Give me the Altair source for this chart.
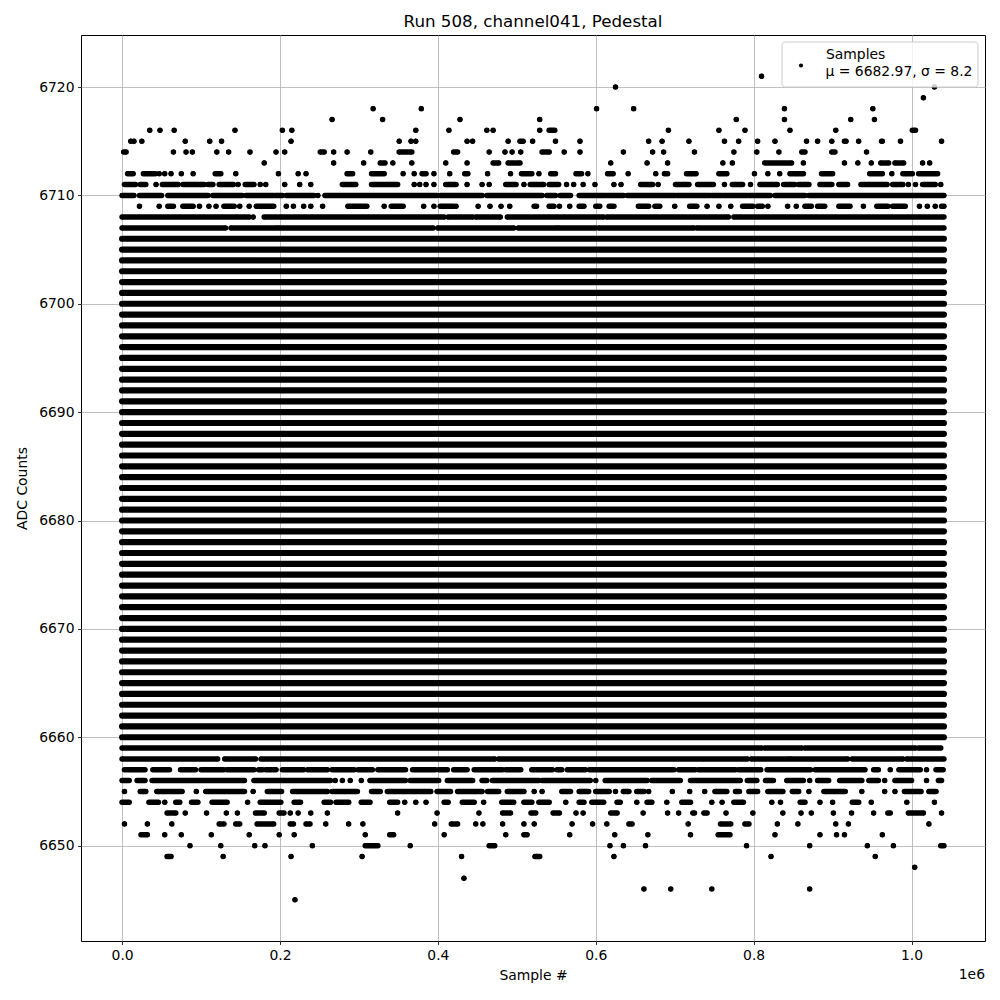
import altair as alt
import pandas as pd

TITLE = "Run 508, channel041, Pedestal"
X_TITLE = "Sample #"
Y_TITLE = "ADC Counts"
LEGEND_NAME = "Samples"
LEGEND_STATS = "μ = 6682.97, σ = 8.2"
X_OFFSET_TEXT = "1e6"
X_TICKS = [0, 200000, 400000, 600000, 800000, 1000000]
Y_TICKS = [6650, 6660, 6670, 6680, 6690, 6700, 6710, 6720]

# Sample positions below are in thousands of samples.
# A single number is one dot; a pair [a, b] is a run of adjacent dots.
DENSE_LEVELS = [6660, 6661, 6662, 6663, 6664, 6665, 6666, 6667, 6668, 6669,
                6670, 6671, 6672, 6673, 6674, 6675, 6676, 6677, 6678, 6679,
                6680, 6681, 6682, 6683, 6684, 6685, 6686, 6687, 6688, 6689,
                6690, 6691, 6692, 6693, 6694, 6695, 6696, 6697, 6698, 6699,
                6700, 6701, 6702, 6703, 6704, 6705, 6706]
DENSE_START = 0
DENSE_END = 1041

ROW_6721 = [810]
ROW_6720 = [625, 1029]
ROW_6719 = [1015]
ROW_6718 = [318, 379, 601, 648, 839, 951]
ROW_6717 = [266, 330, 428, 529, 778, 839, 923, 953]
ROW_6716 = [35, 48, 66, 143, 203, 215, 372, 414, 462, 470, 529, [541, 548], 692,
            756, 789, 846, 904, [1001, 1005]]
ROW_6715 = [11, 15, 25, 80, 111, 126, 214, 351, 366, 372, 437, 444, 489, [504, 508],
            520, 549, 580, 667, 684, 718, 763, 781, 805, 827, 867, 881, 899,
            [915, 917], 933, [962, 963], 986, 1038]
ROW_6714 = [[2, 5], 65, 81, 89, 120, 135, 162, 195, 206, [251, 256], 268, 285, 315,
            [351, 367], [420, 425], 465, 485, 494, 505, [532, 541], 560, 580, 635,
            672, 686, 725, 775, 804, 832, [861, 865], [899, 903], 943]
ROW_6713 = [180, 268, 306, [327, 333], 343, 367, 410, 437, [470, 477], [489, 504],
            619, 665, 691, 761, 773, [814, 848], 863, 915, 932, 949, [961, 971],
            [979, 990], 1014, 1023]
ROW_6712 = [[7, 14], [27, 42], 47, 54, 62, 75, 90, [118, 125], 144, 198, 223, 233,
            [285, 292], [316, 332], 356, 370, [380, 385], 395, 415, [434, 438], 463,
            492, [506, 519], 528, [543, 549], [575, 582], 590, [615, 622], 641, 676,
            [687, 691], [715, 727], [756, 766], 801, 818, 833, [846, 863], [886, 900],
            [947, 963], 975, [989, 1001], [1009, 1033]]
ROW_6711 = [[3, 17], [23, 30], 43, [51, 71], [77, 104], [109, 115], [123, 141], 147,
            [156, 167], 175, 182, 206, 225, 239, [279, 296], [316, 349], 370, 377,
            385, 395, [410, 423], 437, 456, 465, [486, 499], 509, [517, 534],
            [541, 553], 563, 572, 584, 599, 623, 632, [657, 672], 679, [701, 718],
            [729, 749], 763, [773, 786], 796, [808, 830], [838, 852], [857, 870],
            [884, 899], [908, 919], [936, 969], [976, 989], 996, 1005, [1014, 1030],
            1037]
ROW_6710 = [[0, 15], [22, 50], [58, 109], [115, 152], [157, 192], [194, 203],
            [208, 243], 248, [257, 399], [403, 456], [462, 532], [538, 549],
            [555, 568], [579, 612], [614, 635], [640, 701], [703, 745], [747, 760],
            [762, 792], [794, 821], [827, 865], [870, 1041]]
ROW_6709 = [22, 47, [58, 65], [77, 90], 98, 110, 119, [129, 142], 149, 161,
            [170, 192], 208, 217, 230, 239, 254, [286, 310], 332, [341, 356], 382,
            395, [403, 420], 423, 451, 466, 480, 491, [522, 525], [541, 547], 554,
            567, [579, 585], [600, 605], [617, 623], [654, 667], [675, 681], 700,
            [719, 728], 741, 756, 771, [786, 799], [805, 811], 818, 843, 854,
            [865, 873], [881, 890], [908, 922], 939, [956, 970], [976, 992], 1010,
            1020, 1030, [1038, 1041]]
ROW_6708 = [[0, 161], 166, [180, 408], [413, 444], [448, 479], [488, 610],
            [614, 768], [775, 1041]]
ROW_6707 = [[0, 131], [138, 195], [198, 394], [400, 496], [502, 550], [553, 600],
            [604, 724], [728, 1041]]
ROW_6659 = [[0, 810], [814, 861], [865, 1005], [1009, 1037]]
ROW_6658 = [[0, 121], [130, 169], [176, 472], [477, 792], [797, 844], [847, 919],
            [925, 989], [994, 1041]]
ROW_6657 = [[3, 29], [39, 60], [74, 93], [100, 129], [133, 167], [173, 178],
            [182, 195], [203, 230], [235, 260], [266, 294], [299, 317], [324, 359],
            [368, 397], [401, 412], [420, 437], [446, 482], [486, 505], [519, 545],
            [551, 557], [564, 587], [592, 699], [705, 726], [730, 777], [781, 809],
            [817, 872], [878, 941], [952, 958], 973, [984, 1011], 1019, [1031, 1040]]
ROW_6656 = [[0, 9], [19, 29], [38, 155], [167, 264], 270, 279, 289, 303, [314, 359],
            [365, 401], [412, 444], [456, 462], [469, 528], [532, 593], 600,
            [612, 665], [671, 707], [720, 783], [792, 804], [815, 825], [842, 863],
            871, [881, 895], [909, 937], [946, 958], 966, [979, 1000], 1019,
            [1034, 1038]]
ROW_6655 = [3, [23, 30], [44, 76], 94, [106, 155], 166, [184, 202], [216, 260],
            [266, 298], [316, 327], [336, 391], [399, 416], [425, 456], [463, 477],
            [488, 509], 522, 532, [557, 568], [579, 591], [600, 617], 625, [635, 642],
            [652, 661], 667, 697, 719, 738, [751, 766], [777, 782], [794, 805],
            [818, 837], [849, 857], 870, [889, 916], 937, 966, 979, [991, 1012],
            [1022, 1031]]
ROW_6654 = [[0, 9], [34, 46], 54, [68, 73], [88, 96], [114, 133], 159, [175, 201],
            [218, 226], [256, 264], [271, 287], [303, 314], [339, 349], 358, 372,
            385, [408, 413], [431, 446], 458, [481, 496], [509, 519], [528, 541], 562,
            [579, 585], [595, 610], [627, 631], 652, [665, 671], 690, [709, 720], 747,
            760, [775, 787], 823, 834, [859, 865], 884, 900, [925, 933], 949, 994,
            1029]
ROW_6653 = [[57, 68], 80, 107, 132, 146, [169, 180], [199, 205], 213, 223, 239, 260,
            349, 399, 452, [482, 492], [518, 524], [546, 554], 575, 584, [619, 627],
            660, 691, 705, [723, 725], [737, 741], 765, 799, 837, 860, 873, 901, 924,
            952, [970, 973], [996, 1015], 1038]
ROW_6652 = [3, 32, 63, [123, 129], [144, 149], [171, 192], [213, 217], [233, 238],
            258, 287, 305, 396, [417, 425], 448, 457, 482, 509, 522, 570, 596, 614,
            [642, 646], 717, [758, 771], [789, 794], 830, 856, 904, 920, 1022]
ROW_6651 = [[24, 32], 54, 75, 113, 161, 199, 218, 308, [339, 344], 408, 486,
            [509, 513], 567, 624, 666, 720, [755, 770], 827, 884, 905, 915, 963]
ROW_6650 = [86, 125, 168, 181, 241, [308, 324], 365, [465, 472], 618, 635, 663, 791,
            871, 944, 977, [1037, 1041]]
ROW_6649 = [[57, 62], 128, 214, 304, 430, [523, 529], 623, 822, 954]
ROW_6648 = [1004]
ROW_6647 = [433]
ROW_6646 = [661, 695, 747, 871]
ROW_6645 = [219]

ROWS = {
    6721: ROW_6721, 6720: ROW_6720, 6719: ROW_6719, 6718: ROW_6718,
    6717: ROW_6717, 6716: ROW_6716, 6715: ROW_6715, 6714: ROW_6714,
    6713: ROW_6713, 6712: ROW_6712, 6711: ROW_6711, 6710: ROW_6710,
    6709: ROW_6709, 6708: ROW_6708, 6707: ROW_6707,
    6659: ROW_6659, 6658: ROW_6658, 6657: ROW_6657, 6656: ROW_6656,
    6655: ROW_6655, 6654: ROW_6654, 6653: ROW_6653, 6652: ROW_6652,
    6651: ROW_6651, 6650: ROW_6650, 6649: ROW_6649, 6648: ROW_6648,
    6647: ROW_6647, 6646: ROW_6646, 6645: ROW_6645,
}

records = []
for level, items in ROWS.items():
    for it in items:
        if isinstance(it, list):
            a, b = it
        else:
            a = b = it
        records.append({"level": level, "x_start": a * 1000, "x_end": b * 1000})
runs = pd.DataFrame(records)

dense = pd.DataFrame({
    "level": DENSE_LEVELS,
    "x_start": [DENSE_START * 1000] * len(DENSE_LEVELS),
    "x_end": [DENSE_END * 1000] * len(DENSE_LEVELS),
})

FONT = "DejaVu Sans"
FS = 13.9

x_axis = alt.Axis(
    values=X_TICKS,
    labelExpr="format(datum.value / 1000000, '.1f')",
    title=X_TITLE,
    grid=True, gridColor="#b0b0b0", gridWidth=0.8,
    domain=False, ticks=True, tickColor="black", tickWidth=0.8, tickSize=3.5,
    labelFont=FONT, labelFontSize=FS, labelColor="black", labelPadding=3.5,
    titleFont=FONT, titleFontSize=FS, titleFontWeight="normal", titleColor="black",
    titlePadding=7,
)
y_axis = alt.Axis(
    values=Y_TICKS, format="d",
    title=Y_TITLE,
    grid=True, gridColor="#b0b0b0", gridWidth=0.8,
    domain=False, ticks=True, tickColor="black", tickWidth=0.8, tickSize=3.5,
    labelFont=FONT, labelFontSize=FS, labelColor="black", labelPadding=3.5,
    titleFont=FONT, titleFontSize=FS, titleFontWeight="normal", titleColor="black",
    titlePadding=9,
)
x_scale = alt.Scale(domain=[-52050, 1093050], nice=False, zero=False)
y_scale = alt.Scale(domain=[6641.2, 6724.8], nice=False, zero=False)


def X(field):
    return alt.X(field, type="quantitative", scale=x_scale, axis=x_axis)


def Y():
    return alt.Y("level", type="quantitative", scale=y_scale, axis=y_axis)


dense_layer = alt.Chart(dense).mark_rule(
    color="black", strokeWidth=6.2, strokeCap="round"
).encode(x=X("x_start"), x2="x_end", y=Y())

run_layer = alt.Chart(runs).mark_rule(
    color="black", strokeWidth=5.5, strokeCap="round"
).encode(x=X("x_start"), x2="x_end", y=Y())

start_dots = alt.Chart(runs).mark_circle(
    color="black", size=22, opacity=1
).encode(x=X("x_start"), y=Y())

end_dots = alt.Chart(runs).mark_circle(
    color="black", size=22, opacity=1
).encode(x=X("x_end"), y=Y())

one = pd.DataFrame({"k": [0]})

legend_box = alt.Chart(one).mark_rect(
    fill="white", fillOpacity=0.8, stroke="#cccccc", strokeWidth=1, cornerRadius=3
).encode(x=alt.value(701), x2=alt.value(897), y=alt.value(7), y2=alt.value(52))

legend_dot = alt.Chart(one).mark_circle(
    color="black", size=17, opacity=1
).encode(x=alt.value(720), y=alt.value(30.5))

legend_name = alt.Chart(pd.DataFrame({"t": [LEGEND_NAME]})).mark_text(
    font=FONT, fontSize=FS, align="left", baseline="middle", color="black"
).encode(x=alt.value(745), y=alt.value(20), text="t:N")

legend_stats = alt.Chart(pd.DataFrame({"t": [LEGEND_STATS]})).mark_text(
    font=FONT, fontSize=FS, align="left", baseline="middle", color="black"
).encode(x=alt.value(744.5), y=alt.value(37), text="t:N")

offset_text = alt.Chart(pd.DataFrame({"t": [X_OFFSET_TEXT]})).mark_text(
    font=FONT, fontSize=FS, align="right", baseline="middle", color="black"
).encode(x=alt.value(904), y=alt.value(940), text="t:N")

title_text = alt.Chart(pd.DataFrame({"t": [TITLE]})).mark_text(
    font=FONT, fontSize=16.7, align="center", baseline="middle", color="black"
).encode(x=alt.value(452), y=alt.value(-13), text="t:N")

chart = alt.layer(
    dense_layer, run_layer, start_dots, end_dots,
    legend_box, legend_dot, legend_name, legend_stats, offset_text, title_text,
).properties(
    width=904, height=906,
    autosize=alt.AutoSizeParams(type="none"),
    padding={"left": 73, "top": 27, "right": 7, "bottom": 51},
).configure_view(stroke="black", strokeWidth=1)

chart.save("out.html", embed_options={"renderer": "svg", "actions": False})
